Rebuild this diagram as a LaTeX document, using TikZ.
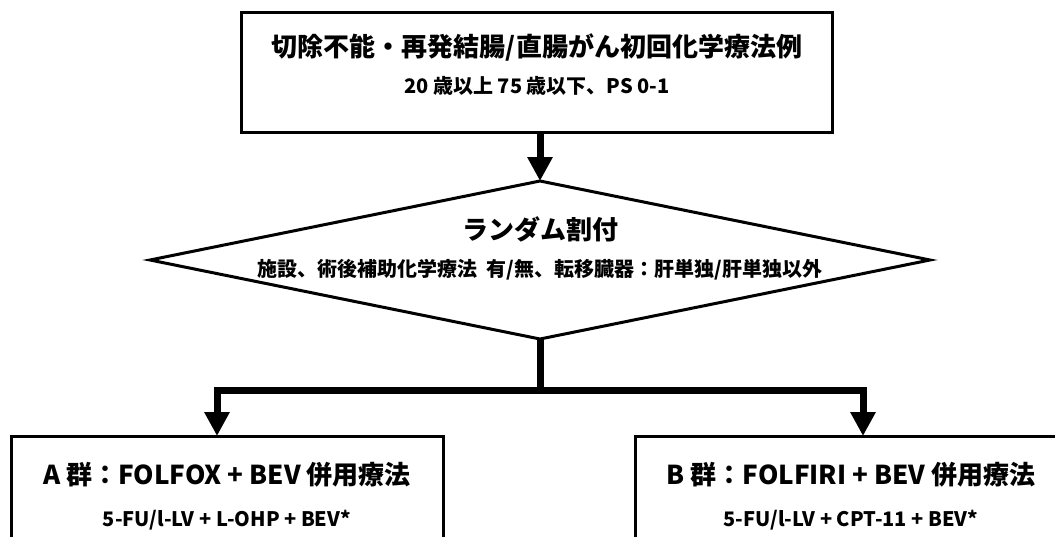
\documentclass[tikz,border=0pt]{standalone}
\usepackage{fontspec}
\setmainfont{Noto Sans CJK JP}
\usetikzlibrary{shapes.geometric,arrows.meta}

\def\lw{3}

\begin{document}
\begin{tikzpicture}[x=1pt, y=-1pt, line width=\lw,
	box/.style={rectangle,draw,line width=\lw,inner sep=0,outer sep=0},
	big/.style={inner sep=0,font=\bfseries\fontsize{26}{30}\selectfont},
	small/.style={inner sep=0,font=\bfseries\fontsize{20}{24}\selectfont},
	arr/.style={line width=7,-{Triangle[width=24pt,length=24pt]}}]
		\useasboundingbox (0,0) rectangle (1055,536);
		\clip (0,0) rectangle (1055,536);
		
		\node (Elig) at (537,72) [box, minimum width=591, minimum height=120]  {};
		\node (EligT) at (537,47) [big]  {切除不能・再発結腸/直腸がん初回化学療法例};
		\node (EligS) at (537,86) [small]  {20 歳以上 75 歳以下、PS 0-1};
		
		\node (Rand) at (540,260) [diamond,draw,line width=\lw,inner sep=0,outer sep=0,aspect=4.9, minimum width=780, minimum height=158]  {};
		\node (RandT) at (540,229) [big]  {ランダム割付};
		\node (RandS) at (540,270) [small]  {施設、術後補助化学療法~~有/無、転移臓器：肝単独/肝単独以外};
		
		\node (GA) at (227,491) [box, minimum width=432, minimum height=110]  {};
		\node (GAT) at (227,475) [big]  {A 群：FOLFOX + BEV 併用療法};
		\node (GAS) at (227,520) [small]  {5-FU/l-LV + L-OHP + BEV*};
		
		\node (GB) at (851,491) [box, minimum width=432, minimum height=110]  {};
		\node (GBT) at (851,475) [big]  {B 群：FOLFIRI + BEV 併用療法};
		\node (GBS) at (851,520) [small]  {5-FU/l-LV + CPT-11 + BEV*};
		
		\coordinate (JA) at (217,390);
		\coordinate (JB) at (863,390);
		
		\draw[arr] (Rand.north |- Elig.south) to (Rand.north);
		\draw[arr] (Rand.south) |- (JA) -- (JA |- GA.north);
		\draw[arr] (Rand.south) |- (JB) -- (JB |- GB.north);
		
	\end{tikzpicture}
\end{document}
